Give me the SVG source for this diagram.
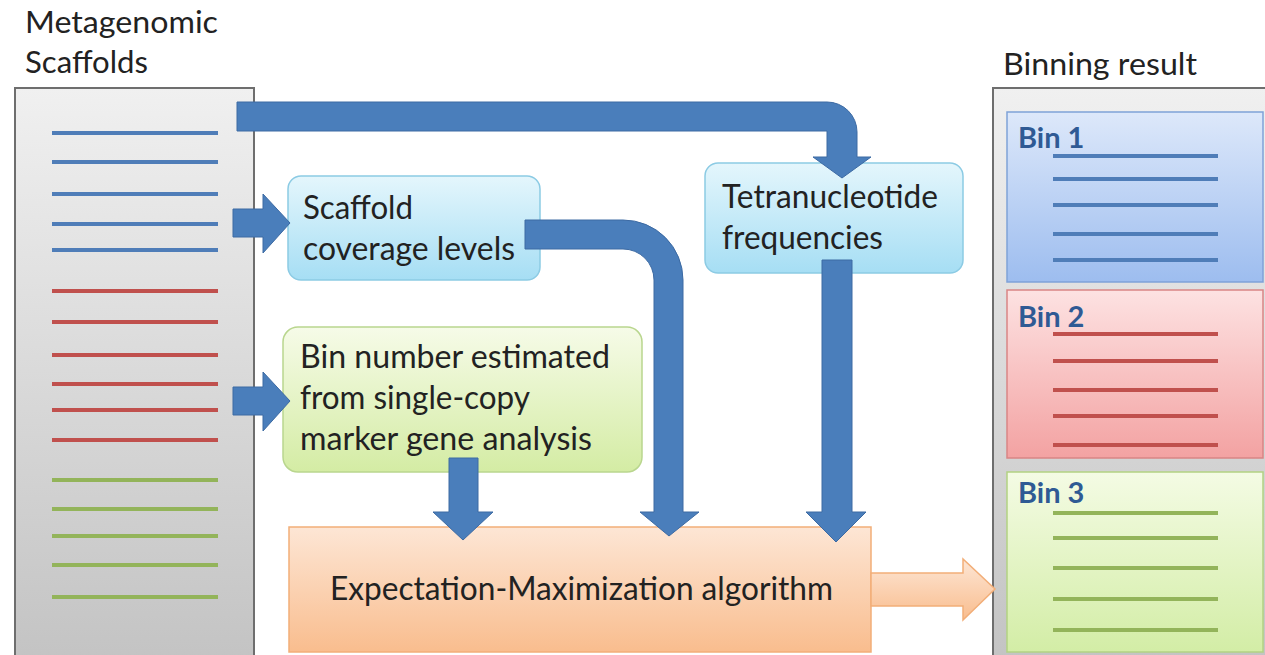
<svg xmlns="http://www.w3.org/2000/svg" width="1265" height="655" viewBox="0 0 1265 655">
  <defs>
    <linearGradient id="gPanel" x1="0" y1="0" x2="0" y2="1">
      <stop offset="0" stop-color="#f0f0f0"/>
      <stop offset="1" stop-color="#c2c2c2"/>
    </linearGradient>
    <linearGradient id="gCyan" x1="0" y1="0" x2="0" y2="1">
      <stop offset="0" stop-color="#e4f6fc"/>
      <stop offset="1" stop-color="#a6def4"/>
    </linearGradient>
    <linearGradient id="gLime" x1="0" y1="0" x2="0" y2="1">
      <stop offset="0" stop-color="#f6fbe8"/>
      <stop offset="1" stop-color="#d4eca4"/>
    </linearGradient>
    <linearGradient id="gOrange" x1="0" y1="0" x2="0" y2="1">
      <stop offset="0" stop-color="#fde6d5"/>
      <stop offset="1" stop-color="#f9bd8e"/>
    </linearGradient>
    <linearGradient id="gBlueBin" x1="0" y1="0" x2="0" y2="1">
      <stop offset="0" stop-color="#dde8fa"/>
      <stop offset="1" stop-color="#9dbdef"/>
    </linearGradient>
    <linearGradient id="gRedBin" x1="0" y1="0" x2="0" y2="1">
      <stop offset="0" stop-color="#fde2e2"/>
      <stop offset="1" stop-color="#f3a2a2"/>
    </linearGradient>
    <linearGradient id="gGreenBin" x1="0" y1="0" x2="0" y2="1">
      <stop offset="0" stop-color="#f4fbe4"/>
      <stop offset="1" stop-color="#d3eda6"/>
    </linearGradient>
  </defs>
  <style>
    .t { font-family: Lato, "Open Sans", sans-serif; font-size: 32px; fill: #222; }
    .head { font-family: Lato, "Open Sans", sans-serif; font-size: 30px; fill: #222; }
    .binlabel { font-family: Lato, "Open Sans", sans-serif; font-size: 29px; font-weight: bold; fill: #2f5a94; }
    .panel { fill: url(#gPanel); stroke: #6e6e6e; stroke-width: 2; }
    .blue { stroke: #4f7db8; stroke-width: 4; }
    .red { stroke: #c0504d; stroke-width: 4; }
    .green { stroke: #93b45a; stroke-width: 4; }
    .arrow { fill: #4a7ebb; stroke: #3c6aa3; stroke-width: 1; }
  </style>

  <rect width="1265" height="655" fill="#ffffff"/>

  <!-- input scaffolds -->
  <g id="scaffolds">
    <text class="head" x="25" y="33" textLength="193" lengthAdjust="spacingAndGlyphs">Metagenomic</text>
    <text class="head" x="25" y="73" textLength="123" lengthAdjust="spacingAndGlyphs">Scaffolds</text>
    <rect class="panel" x="15" y="88" width="239" height="590"/>
    <g class="blue">
      <line x1="52" y1="133" x2="218" y2="133"/>
      <line x1="52" y1="162" x2="218" y2="162"/>
      <line x1="52" y1="194" x2="218" y2="194"/>
      <line x1="52" y1="224" x2="218" y2="224"/>
      <line x1="52" y1="250" x2="218" y2="250"/>
    </g>
    <g class="red">
      <line x1="52" y1="291" x2="218" y2="291"/>
      <line x1="52" y1="322" x2="218" y2="322"/>
      <line x1="52" y1="355" x2="218" y2="355"/>
      <line x1="52" y1="384" x2="218" y2="384"/>
      <line x1="52" y1="410" x2="218" y2="410"/>
      <line x1="52" y1="440" x2="218" y2="440"/>
    </g>
    <g class="green">
      <line x1="52" y1="480" x2="218" y2="480"/>
      <line x1="52" y1="509" x2="218" y2="509"/>
      <line x1="52" y1="536" x2="218" y2="536"/>
      <line x1="52" y1="565" x2="218" y2="565"/>
      <line x1="52" y1="597" x2="218" y2="597"/>
    </g>
  </g>

  <!-- coverage -->
  <g id="coverage">
    <rect x="288" y="176" width="252" height="104" rx="13" fill="url(#gCyan)" stroke="#8ccbe4" stroke-width="1.5"/>
    <text class="t" x="303" y="219" textLength="110" lengthAdjust="spacingAndGlyphs">Scaffold</text>
    <text class="t" x="303" y="260" textLength="212" lengthAdjust="spacingAndGlyphs">coverage levels</text>
  </g>

  <!-- tetranucleotide -->
  <g id="tetra">
    <rect x="705" y="163" width="258" height="110" rx="13" fill="url(#gCyan)" stroke="#8ccbe4" stroke-width="1.5"/>
    <text class="t" x="722" y="208" textLength="216" lengthAdjust="spacingAndGlyphs">Tetranucleotide</text>
    <text class="t" x="722" y="249" textLength="161" lengthAdjust="spacingAndGlyphs">frequencies</text>
  </g>

  <!-- bin number -->
  <g id="binnumber">
    <rect x="283" y="327" width="359" height="145" rx="15" fill="url(#gLime)" stroke="#b9d68e" stroke-width="1.5"/>
    <text class="t" x="300" y="368" textLength="310" lengthAdjust="spacingAndGlyphs">Bin number estimated</text>
    <text class="t" x="300" y="409" textLength="230" lengthAdjust="spacingAndGlyphs">from single-copy</text>
    <text class="t" x="300" y="450" textLength="292" lengthAdjust="spacingAndGlyphs">marker gene analysis</text>
  </g>

  <!-- EM -->
  <g id="em">
    <rect x="289" y="527" width="582" height="125" fill="url(#gOrange)" stroke="#f2ae78" stroke-width="1.5"/>
    <text class="t" x="330" y="600" textLength="503" lengthAdjust="spacingAndGlyphs">Expectation-Maximization algorithm</text>
  </g>

  <!-- binning result -->
  <g id="result">
    <text class="head" x="1003" y="75" textLength="194" lengthAdjust="spacingAndGlyphs">Binning result</text>
    <rect class="panel" x="993" y="88" width="300" height="590"/>
  </g>

  <g id="bin1">
    <rect x="1007" y="112" width="256" height="170" fill="url(#gBlueBin)" stroke="#7fa2d8" stroke-width="1.5"/>
    <text class="binlabel" x="1018" y="148">Bin 1</text>
    <g class="blue">
      <line x1="1053" y1="156" x2="1218" y2="156"/>
      <line x1="1053" y1="179" x2="1218" y2="179"/>
      <line x1="1053" y1="205" x2="1218" y2="205"/>
      <line x1="1053" y1="234" x2="1218" y2="234"/>
      <line x1="1053" y1="260" x2="1218" y2="260"/>
    </g>
  </g>

  <g id="bin2">
    <rect x="1007" y="290" width="256" height="168" fill="url(#gRedBin)" stroke="#d98585" stroke-width="1.5"/>
    <text class="binlabel" x="1018" y="327">Bin 2</text>
    <g class="red">
      <line x1="1053" y1="334" x2="1218" y2="334"/>
      <line x1="1053" y1="361" x2="1218" y2="361"/>
      <line x1="1053" y1="390" x2="1218" y2="390"/>
      <line x1="1053" y1="416" x2="1218" y2="416"/>
      <line x1="1053" y1="445" x2="1218" y2="445"/>
    </g>
  </g>

  <g id="bin3">
    <rect x="1007" y="472" width="256" height="180" fill="url(#gGreenBin)" stroke="#b2d283" stroke-width="1.5"/>
    <text class="binlabel" x="1018" y="503">Bin 3</text>
    <g class="green">
      <line x1="1053" y1="513" x2="1218" y2="513"/>
      <line x1="1053" y1="538" x2="1218" y2="538"/>
      <line x1="1053" y1="568" x2="1218" y2="568"/>
      <line x1="1053" y1="599" x2="1218" y2="599"/>
      <line x1="1053" y1="630" x2="1218" y2="630"/>
    </g>
  </g>

  <!-- connectors -->
  <g id="connectors">
    <path class="arrow" d="M237,102 H827 A30,30 0 0 1 857,132 V157 H871 L842,178 L813,157 H827 V131 H237 Z"/>
    <path class="arrow" d="M233,209 H263 V194 L290,223 L263,253 V237 H233 Z"/>
    <path class="arrow" d="M233,387 H263 V372 L290,401 L263,431 V415 H233 Z"/>
    <path class="arrow" d="M525,220 H623 A60,60 0 0 1 683,280 V512 H699 L669,536 L640,512 H654 V280 A31,31 0 0 0 623,249 H525 Z"/>
    <path class="arrow" d="M822,260 H852 V512 H866 L836,542 L806,512 H822 Z"/>
    <path class="arrow" d="M449,458 H478 V512 H493 L463,540 L433,512 H449 Z"/>
    <path d="M871,573 H963 V559 L995,589 L963,620 V606 H871 Z" fill="url(#gOrange)" stroke="#f2ae78" stroke-width="1.5"/>
  </g>
</svg>
